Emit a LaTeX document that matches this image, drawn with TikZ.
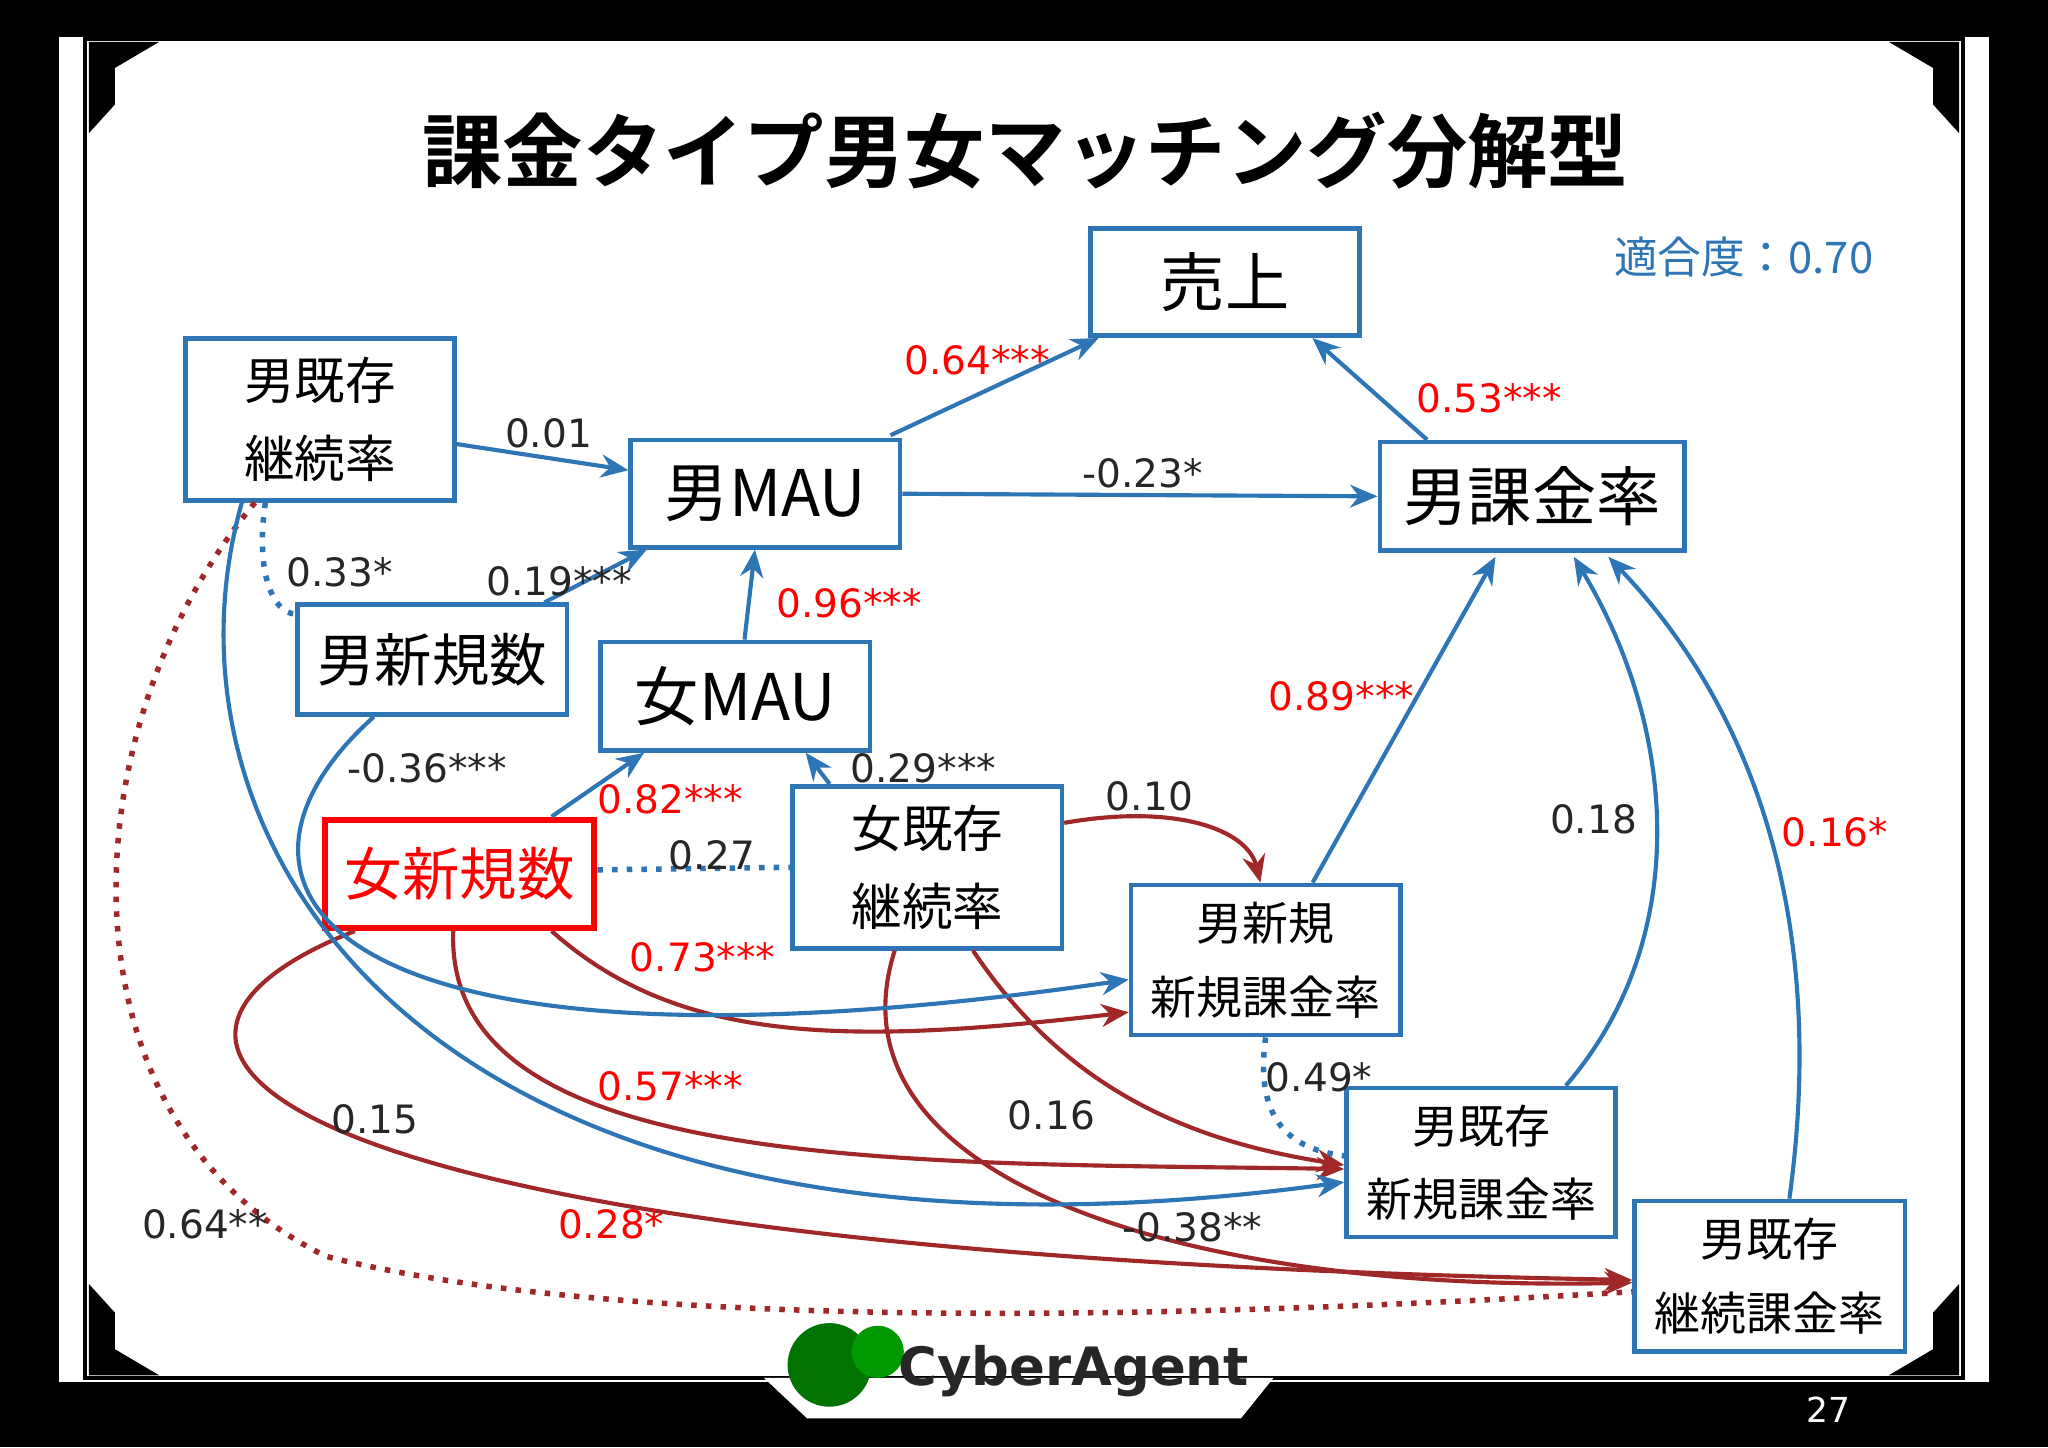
\documentclass[tikz,border=0pt]{standalone}
\usepackage{fontspec}
\setmainfont{DejaVu Sans}
\newfontfamily\cjk{Noto Sans CJK JP}
\newfontfamily\cjkb{Noto Sans CJK JP Bold}
\usetikzlibrary{arrows.meta,calc}
\definecolor{bb}{RGB}{46,117,182}
\definecolor{dr}{RGB}{160,40,40}
\definecolor{rt}{RGB}{255,0,0}
\begin{document}
\begin{tikzpicture}[x=0.01cm,y=-0.01cm,
 box/.style={draw=bb,line width=1pt,fill=white,inner sep=0pt,align=center,font=\cjk\fontsize{11}{17}\selectfont},
 big/.style={font=\cjk\fontsize{14}{16}\selectfont},
 ba/.style={bb,line width=0.9pt,-{Stealth[length=6pt,width=5pt]}},
 ra/.style={dr,line width=0.9pt,-{Stealth[length=6pt,width=5pt]}},
 lb/.style={font=\fontsize{8.5}{10}\selectfont,text=black!85},
 lr/.style={font=\fontsize{8.5}{10}\selectfont,text=rt}]
\useasboundingbox (0,0) rectangle (1568,1108);
\fill[black] (0,0) rectangle (1568,1108);
\fill[white] (45,28) rectangle (1523,1058);
\draw[black,line width=0.8pt] (65,30) rectangle (1503,1055);
\fill[black] (68,32)--(122,32)--(88,52)--(88,80)--(68,102)--cycle;
\fill[black] (1500,32)--(1446,32)--(1480,52)--(1480,80)--(1500,102)--cycle;
\fill[black] (68,1053)--(122,1053)--(88,1033)--(88,1005)--(68,983)--cycle;
\fill[black] (1500,1053)--(1446,1053)--(1480,1033)--(1480,1005)--(1500,983)--cycle;
\fill[white] (585,1055)--(618,1086)--(950,1086)--(975,1055)--cycle;
\node[text=white,font=\fontsize{7.5}{9}\selectfont] (pg) at (1400,1079) {27};
\fill[green!45!black] (635,1045) circle (32);
\fill[green!60!black] (672,1035) circle (20);
\node[font=\bfseries\fontsize{11.5}{14}\selectfont,text=black!85] (logo) at (822,1050) {CyberAgent};
\node[font=\cjkb\fontsize{17.5}{20}\selectfont] (title) at (785,115) {課金タイプ男女マッチング分解型};
\node[font=\cjk\fontsize{9.5}{11}\selectfont,text=bb] (fit) at (1335,197) {適合度：0.70};

\node[box,big,minimum width=2.06cm,minimum height=0.82cm] (ur) at (938,216) {売上};
\node[box,minimum width=2.06cm,minimum height=1.24cm] (mkz) at (245,321) {男既存\\継続率};
\node[box,big,minimum width=2.06cm,minimum height=0.82cm] (mmau) at (586,378) {男MAU};
\node[box,big,minimum width=2.33cm,minimum height=0.83cm] (mkr) at (1173,380) {男課金率};
\node[box,font=\cjk\fontsize{12.5}{14}\selectfont,minimum width=2.06cm,minimum height=0.84cm] (msk) at (331,505) {男新規数};
\node[box,big,minimum width=2.06cm,minimum height=0.83cm] (fmau) at (563,533) {女MAU};
\node[box,draw=rt,line width=1.3pt,text=rt,font=\cjk\fontsize{12.5}{14}\selectfont,minimum width=2.06cm,minimum height=0.83cm] (fsk) at (352,669) {女新規数};
\node[box,minimum width=2.06cm,minimum height=1.24cm] (fkz) at (710,664) {女既存\\継続率};
\node[box,font=\cjk\fontsize{10}{16}\selectfont,minimum width=2.06cm,minimum height=1.15cm] (mss) at (969,735) {男新規\\新規課金率};
\node[box,font=\cjk\fontsize{10}{16}\selectfont,minimum width=2.06cm,minimum height=1.14cm] (mks) at (1134,890) {男既存\\新規課金率};
\node[box,font=\cjk\fontsize{10}{16}\selectfont,minimum width=2.07cm,minimum height=1.15cm] (mkk) at (1355,977) {男既存\\継続課金率};

% dark red curves
\draw[ra] ($(fkz.east)+(0,-34)$) .. controls (900,615) and (955,635) .. ($(mss.north)+(-4,0)$);
\draw[ra] ($(fsk.south east)+(-35,0)$) .. controls (520,800) and (650,800) .. ($(mss.west)+(0,40)$);
\draw[ra] ($(fsk.south)+(-5,0)$) .. controls (340,900) and (700,890) .. ($(mks.west)+(0,5)$);
\draw[ra] ($(fkz.south)+(35,0)$) .. controls (820,840) and (920,875) .. ($(mks.west)+(0,2)$);
\draw[ra] ($(fkz.south)+(-25,0)$) .. controls (630,900) and (900,990) .. ($(mkk.west)+(0,5)$);
\draw[ra] ($(fsk.south west)+(25,0)$) .. controls (50,800) and (180,960) .. ($(mkk.west)+(0,3)$);
\coordinate (dm) at (250,962);
\draw[dr,line width=1.2pt,dotted] ($(mkz.south west)+(55,0)$) .. controls (50,560) and (40,860) .. (dm) .. controls (480,1020) and (900,1010) .. ($(mkk.west)+(0,12)$);
% blue
\draw[ba] ($(mkz.east)+(0,19)$) -- ($(mmau.west)+(0,-18)$);
\draw[ba] ($(mmau.north east)+(-9,-2)$) -- ($(ur.south west)+(8,0)$);
\draw[ba] (mmau.east) -- (mkr.west);
\draw[ba] ($(mkr.north west)+(38,0)$) -- ($(ur.south east)+(-38,0)$);
\draw[ba] ($(msk.north east)+(-19,0)$) -- ($(mmau.south west)+(14,0)$);
\draw[ba] ($(fmau.north)+(7,0)$) -- ($(mmau.south)+(-8,0)$);
\draw[bb,line width=1.2pt,dotted] ($(mkz.south west)+(63,0)$) .. controls (195,440) and (210,470) .. ($(msk.west)+(0,-35)$);
\draw[ba] ($(fsk.north east)+(-35,0)$) -- ($(fmau.south west)+(35,0)$);
\draw[ba] ($(fkz.north west)+(30,0)$) -- ($(fmau.south east)+(-51,0)$);
\draw[bb,line width=1.2pt,dotted] ($(fsk.east)+(0,-3)$) -- ($(fkz.west)+(0,0)$);
\draw[ba] ($(mss.north)+(36,0)$) -- ($(mkr.south)+(-28,3)$);
\draw[ba] ($(mks.north east)+(-40,0)$) .. controls (1295,720) and (1285,560) .. ($(mkr.south)+(32,3)$);
\draw[ba] ($(mkk.north)+(15,0)$) .. controls (1400,700) and (1340,540) .. ($(mkr.south east)+(-60,3)$);
\draw[ba] ($(msk.south west)+(60,0)$) .. controls (140,680) and (250,840) .. ($(mss.west)+(0,15)$);
\draw[ba] ($(mkz.south west)+(45,0)$) .. controls (110,650) and (330,1000) .. ($(mks.west)+(0,15)$);
\draw[bb,line width=1.2pt,dotted] (mss.south) .. controls (960,860) and (990,880) .. ($(mks.west)+(0,-5)$);

% labels
\node[lb] (l1) at (420,332) {0.01};
\node[lr] (l2) at (748,276) {0.64***};
\node[lb] (l3) at (875,362) {-0.23*};
\node[lr] (l4) at (1140,305) {0.53***};
\node[lb] (l5) at (428,445) {0.19***};
\node[lr] (l6) at (650,462) {0.96***};
\node[lb] (l7) at (260,438) {0.33*};
\node[lr] (l8) at (513,612) {0.82***};
\node[lb] (l9) at (707,588) {0.29***};
\node[lb] (l10) at (545,655) {0.27};
\node[lr] (l11) at (1027,533) {0.89***};
\node[lb] (l12) at (1220,627) {0.18};
\node[lr] (l13) at (1405,637) {0.16*};
\node[lb] (l14) at (327,588) {-0.36***};
\node[lb] (l15) at (287,857) {0.15};
\node[lb] (l16) at (1010,825) {0.49*};
\node[lb] (l17) at (880,610) {0.10};
\node[lr] (l18) at (538,733) {0.73***};
\node[lr] (l19) at (513,832) {0.57***};
\node[lb] (l20) at (805,854) {0.16};
\node[lb] (l21) at (913,940) {-0.38**};
\node[lr] (l22) at (468,937) {0.28*};
\node[lb] (l23) at (157,937) {0.64**};
\end{tikzpicture}
\end{document}
